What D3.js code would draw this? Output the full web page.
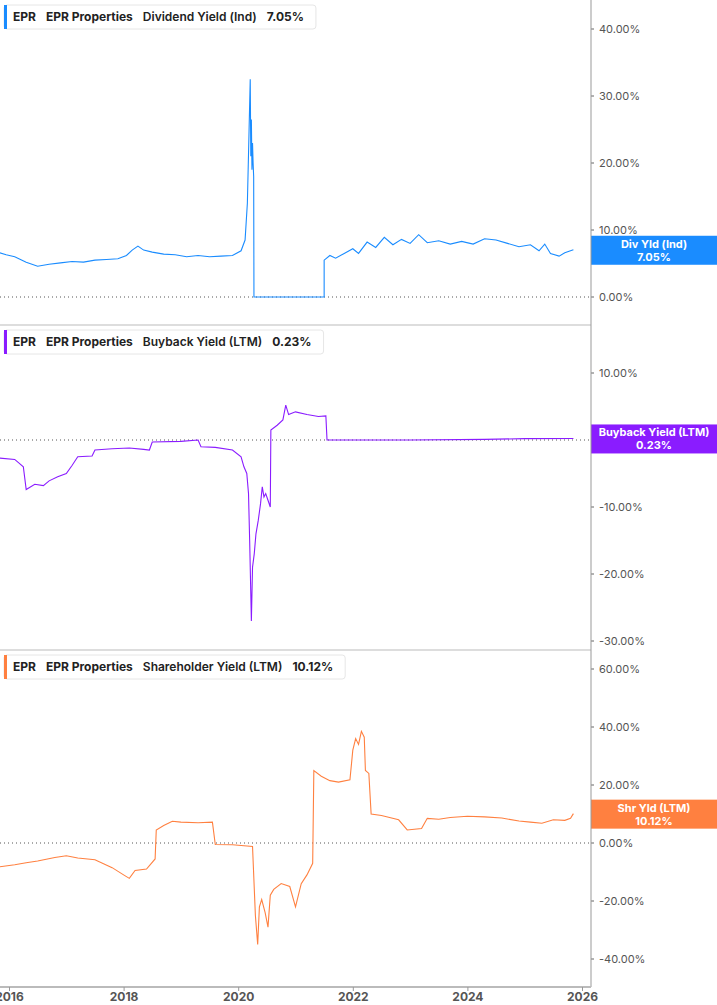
<!DOCTYPE html>
<html><head><meta charset="utf-8">
<script src="https://cdn.jsdelivr.net/npm/d3@7"></script>
<style>body{margin:0;background:#fff}svg{font-family:Inter,Roboto,sans-serif}</style>
</head><body>
<svg width="717" height="1005"></svg>
<script>
var years = [2016, 2018, 2020, 2022, 2024, 2026];

// [year, %]
var divYield = [[2015.84,6.6],[2015.95,6.3],[2016.1,6.0],[2016.3,5.2],[2016.5,4.6],[2016.7,4.9],[2016.9,5.1],[2017.1,5.3],[2017.3,5.2],[2017.5,5.5],[2017.7,5.6],[2017.9,5.7],[2018.05,6.2],[2018.15,7.0],[2018.25,7.6],[2018.35,7.0],[2018.5,6.7],[2018.7,6.4],[2018.9,6.3],[2019.1,6.0],[2019.3,6.2],[2019.5,6.0],[2019.7,6.1],[2019.9,6.2],[2020.05,6.9],[2020.12,8.5],[2020.16,14],[2020.19,25],[2020.21,32.5],[2020.22,21],[2020.23,26.5],[2020.24,19],[2020.25,23],[2020.26,20],[2020.27,18],[2020.275,0],[2021.5,0],[2021.5,5.5],[2021.6,6.2],[2021.7,5.8],[2021.85,6.5],[2022.0,7.2],[2022.1,6.5],[2022.25,8.2],[2022.4,7.4],[2022.55,8.9],[2022.7,7.8],[2022.85,8.6],[2023.0,8.0],[2023.15,9.3],[2023.3,8.1],[2023.5,8.4],[2023.7,7.9],[2023.9,8.3],[2024.1,7.9],[2024.3,8.7],[2024.5,8.5],[2024.7,8.0],[2024.9,7.5],[2025.1,7.8],[2025.25,6.9],[2025.35,7.9],[2025.45,6.5],[2025.6,6.1],[2025.7,6.6],[2025.85,7.05]];

var buyback = [[2015.84,-2.7],[2016.1,-2.9],[2016.25,-4],[2016.3,-7.4],[2016.45,-6.6],[2016.6,-6.8],[2016.7,-6.1],[2016.85,-5.5],[2017.0,-5.0],[2017.1,-3.8],[2017.2,-2.5],[2017.45,-2.4],[2017.5,-1.5],[2017.8,-1.3],[2018.1,-1.2],[2018.35,-1.4],[2018.45,-1.5],[2018.5,-0.3],[2019.0,-0.2],[2019.3,0],[2019.35,-1.0],[2019.6,-1.1],[2019.9,-1.5],[2020.05,-2.5],[2020.1,-4],[2020.15,-5],[2020.18,-8],[2020.2,-15],[2020.22,-23],[2020.23,-27],[2020.25,-19],[2020.28,-17],[2020.31,-14],[2020.35,-12],[2020.39,-9.5],[2020.42,-7],[2020.45,-8.5],[2020.48,-8],[2020.52,-9],[2020.56,-10],[2020.57,1.5],[2020.68,2.2],[2020.78,3],[2020.83,5.2],[2020.88,3.8],[2021.0,4.2],[2021.2,3.8],[2021.4,3.5],[2021.53,3.6],[2021.55,0],[2023.0,0],[2024.3,0.1],[2025.0,0.2],[2025.85,0.23]];

var shrYield = [[2015.84,-8.2],[2016.1,-7.5],[2016.3,-6.8],[2016.5,-6.2],[2016.8,-5.0],[2017.0,-4.4],[2017.2,-5.2],[2017.5,-5.8],[2017.8,-8.5],[2018.0,-11],[2018.1,-12.2],[2018.2,-9.5],[2018.4,-9.0],[2018.55,-5.5],[2018.57,4.5],[2018.7,6.0],[2018.85,7.5],[2019.0,7.2],[2019.3,7.0],[2019.55,7.2],[2019.6,-0.5],[2019.9,-0.6],[2020.25,-1.2],[2020.3,-25],[2020.34,-35],[2020.37,-22],[2020.41,-19.5],[2020.47,-24],[2020.52,-29],[2020.56,-18],[2020.62,-16],[2020.75,-14],[2020.9,-15],[2021.0,-22],[2021.1,-14],[2021.2,-11],[2021.3,-7],[2021.32,25],[2021.45,23],[2021.6,21.5],[2021.75,21],[2021.95,21.8],[2022.0,32],[2022.05,36],[2022.1,34],[2022.15,38.5],[2022.2,36.5],[2022.22,25],[2022.28,24],[2022.32,10],[2022.5,9.5],[2022.8,8.0],[2022.95,4.5],[2023.2,5.0],[2023.3,8.5],[2023.5,8.2],[2023.7,8.8],[2024.0,9.2],[2024.3,9.0],[2024.6,8.6],[2024.9,7.6],[2025.1,7.2],[2025.3,6.8],[2025.5,8.0],[2025.7,7.8],[2025.8,8.5],[2025.85,10.12]];

var panels = [
  {name: "Dividend Yield (Ind)", tag: "Div Yld (Ind)", last: 7.05, data: divYield, color: "#1a8cff",
   top: 0, bottom: 325, dom: [0, 10], rng: [297, 230], ticks: [0, 10, 20, 30, 40]},
  {name: "Buyback Yield (LTM)", tag: "Buyback Yield (LTM)", last: 0.23, data: buyback, color: "#8a1cff",
   top: 325, bottom: 650, dom: [0, 10], rng: [440, 373], ticks: [-30, -20, -10, 0, 10]},
  {name: "Shareholder Yield (LTM)", tag: "Shr Yld (LTM)", last: 10.12, data: shrYield, color: "#ff8040",
   top: 650, bottom: 987, dom: [0, 20], rng: [843, 785], ticks: [-40, -20, 0, 20, 40, 60]}
];

var svg = d3.select("svg");
var axisX = 591;
var x = d3.scaleLinear().domain([2016, 2026]).range([9, 582]);

panels.forEach(function(p, i) {
  var y = d3.scaleLinear().domain(p.dom).range(p.rng);
  var g = svg.append("g");
  var ty = y(p.last);

  svg.append("clipPath").attr("id", "clip" + i)
    .append("rect").attr("x", 0).attr("y", p.top + 1).attr("width", axisX).attr("height", p.bottom - p.top - 1);

  // zero line
  g.append("line").attr("x1", 0).attr("x2", axisX).attr("y1", y(0)).attr("y2", y(0))
    .attr("stroke", "#555").attr("stroke-dasharray", "1,3");

  var line = d3.line().x(function(d) { return x(d[0]); }).y(function(d) { return y(d[1]); });
  g.append("path").datum(p.data).attr("d", line).attr("fill", "none")
    .attr("stroke", p.color).attr("stroke-width", 1.1).attr("clip-path", "url(#clip" + i + ")");

  // right axis ticks (labels hidden behind the value tag)
  p.ticks.forEach(function(t) {
    g.append("line").attr("x1", axisX).attr("x2", axisX + 3).attr("y1", y(t)).attr("y2", y(t)).attr("stroke", "#666");
    if (Math.abs(y(t) - ty) < 18) return;
    g.append("text").attr("x", axisX + 8).attr("y", y(t)).attr("dy", "0.35em")
      .attr("font-size", 11).attr("fill", "#555").text(t.toFixed(2) + "%");
  });

  // separator
  if (i < 2) g.append("line").attr("x1", 0).attr("x2", axisX).attr("y1", p.bottom).attr("y2", p.bottom).attr("stroke", "#bbb");

  // legend
  var lg = g.append("g").attr("transform", "translate(4," + (p.top + 5) + ")");
  var lt = lg.append("text").attr("x", 9).attr("y", 12).attr("dy", "0.35em")
    .attr("font-size", 12).attr("font-weight", "bold").attr("fill", "#222");
  lt.append("tspan").text("EPR");
  lt.append("tspan").attr("dx", 10).text("EPR Properties");
  lt.append("tspan").attr("dx", 10).attr("font-weight", 600).text(p.name);
  lt.append("tspan").attr("dx", 10).text(p.last.toFixed(2) + "%");
  var bb = lt.node().getBBox();
  var w = bb.x + bb.width + 12;
  lg.insert("rect", "text").attr("width", w).attr("height", 24).attr("rx", 3)
    .attr("fill", "#fff").attr("stroke", "#e6e6e6");
  lg.insert("rect", "text").attr("width", 3).attr("height", 24).attr("fill", p.color);

  // value tag
  g.append("rect").attr("x", axisX).attr("y", ty - 14).attr("width", 717 - axisX).attr("height", 29).attr("fill", p.color);
  g.append("text").attr("x", (axisX + 717) / 2).attr("y", ty - 6).attr("dy", "0.35em").attr("text-anchor", "middle")
    .attr("font-size", 11).attr("font-weight", "bold").attr("fill", "#fff").text(p.tag);
  g.append("text").attr("x", (axisX + 717) / 2).attr("y", ty + 7).attr("dy", "0.35em").attr("text-anchor", "middle")
    .attr("font-size", 11).attr("font-weight", "bold").attr("fill", "#fff").text(p.last.toFixed(2) + "%");
});

// right axis line
svg.append("line").attr("x1", axisX).attr("x2", axisX).attr("y1", 0).attr("y2", 987).attr("stroke", "#999");

// x axis
var xa = svg.append("g").attr("transform", "translate(0,987)")
  .call(d3.axisBottom(x).tickValues(years).tickFormat(d3.format("d")).tickSize(4).tickSizeOuter(0));
xa.select(".domain").attr("stroke", "#bbb").attr("stroke-width", 2).attr("d", "M0,0H" + axisX);
xa.selectAll(".tick line").attr("stroke", "#999");
xa.selectAll(".tick text").attr("font-size", 12).attr("font-weight", "bold").attr("fill", "#555")
  .attr("y", 5).attr("dy", "0.71em").attr("font-family", "Inter,Roboto,sans-serif");
</script>
</body></html>
